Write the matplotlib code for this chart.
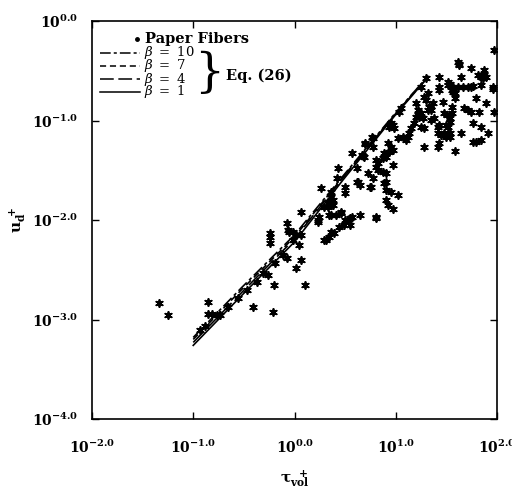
import numpy as np
import matplotlib
matplotlib.use("Agg")
import matplotlib.pyplot as plt
from matplotlib.ticker import FixedLocator, FuncFormatter, NullLocator

plt.rcParams['mathtext.fontset'] = 'dejavuserif'
plt.rcParams['font.family'] = ['DejaVu Serif']

# ---- data (log10 exponents) ----
tau_exp = [
    -1.34, -1.25, -0.85, -0.85, -0.81, -0.77, -0.74, -0.41, -0.21, -0.20,
    0.10, -0.24, -0.24, -0.24, -0.07, -0.05, -0.06, 0.01, 0.04, 0.06,
    0.01, 0.06, -0.07, -0.26, 0.29, 0.34, 0.36, 0.39, 0.44, 0.46,
    0.34, 0.41, 0.50, 0.29, -0.01, 0.06, 0.31, 0.49, 0.55, 0.55,
    0.53, 0.65, 0.80, 0.23, 0.24,
    -0.93, -0.88, -0.66, -0.56, -0.47, -0.37, -0.31, -0.19, -0.11, -0.01,
    0.23, 0.33, 0.34, 0.36, 0.62, 0.78, 1.05, 1.25, 1.30,
    0.78, 0.70, 0.57, 0.68, 0.80, 0.82, 0.73, 0.78, 0.43, 0.42,
    0.62, 0.65, 0.50, 0.26, 0.76, 0.36, 0.38, 0.36, 0.50, 0.46,
    0.36, 0.57, 0.34, 0.38,
    1.97, 1.61, 1.62, 1.74, 1.87, 1.81, 1.84, 1.86, 1.87, 1.89,
    1.64, 1.96, 1.96, 1.84, 1.43, 1.52, 1.54, 1.57, 1.61, 1.66,
    1.71, 1.74, 1.76, 1.43, 1.43, 1.56, 1.57, 1.59, 1.59, 1.79,
    1.28, 1.32, 1.47, 1.89, 1.97, 1.67, 1.71, 1.74, 1.82, 1.56,
    1.56, 1.48, 1.51, 1.54, 1.37, 1.33, 1.32, 1.35, 1.20, 1.22,
    1.22, 1.20, 1.23, 1.27, 1.35, 1.38, 1.18, 1.25, 1.28, 1.54,
    1.52, 1.50, 1.42, 1.43, 1.76, 1.84, 1.91, 1.42, 1.45, 1.48,
    1.51, 1.54, 1.54, 1.50, 1.64, 1.76, 1.79, 1.84, 1.43, 1.42,
    1.28, 1.59, 1.15, 1.13, 1.12, 1.10, 1.07, 1.02, 0.93, 0.97,
    0.98, 0.92, 0.95, 0.97, 0.93, 0.88, 0.90, 0.87, 0.97, 0.90,
    0.87, 0.80, 0.82, 0.90, 0.88, 0.90, 0.95, 1.02, 0.90, 0.92,
    0.97, 0.80, 0.70, 0.77, 0.67, 0.69, 0.63, 0.75,
    1.30, 1.35, 1.25, 1.52, 1.62, 1.03, 0.95,
]
u_exp = [
    -2.83, -2.95, -2.82, -2.94, -2.94, -2.95, -2.95, -2.87, -2.92, -2.65,
    -2.65, -2.13, -2.23, -2.17, -2.03, -2.12, -2.10, -2.15, -2.25, -2.40,
    -2.48, -1.92, -2.38, -2.55, -2.20, -2.17, -2.12, -2.13, -2.07, -1.93,
    -1.95, -1.95, -2.00, -1.87, -2.12, -2.15, -2.20, -2.05, -2.05, -1.98,
    -2.00, -1.95, -1.97, -2.00, -1.97,
    -3.11, -3.07, -2.87, -2.78, -2.70, -2.62, -2.53, -2.43, -2.35, -2.20,
    -2.02, -1.87, -1.83, -1.77, -1.48, -1.27, -0.87, -0.66, -0.57,
    -1.18, -1.24, -1.33, -1.36, -1.40, -1.50, -1.53, -1.58, -1.48, -1.58,
    -1.62, -1.65, -1.67, -1.68, -1.67, -1.72, -1.80, -1.85, -1.73, -1.92,
    -1.95, -1.97, -1.82, -1.85,
    -0.29, -0.41, -0.43, -0.47, -0.49, -0.54, -0.56, -0.57, -0.54, -0.56,
    -0.56, -0.66, -0.68, -0.64, -0.56, -0.61, -0.63, -0.66, -0.66, -0.66,
    -0.66, -0.66, -0.65, -0.66, -0.69, -0.69, -0.71, -0.72, -0.77, -0.77,
    -0.76, -0.72, -0.81, -0.82, -0.91, -0.87, -0.89, -0.91, -0.91, -0.86,
    -0.92, -0.92, -0.94, -0.97, -0.82, -0.86, -0.89, -0.89, -0.82, -0.89,
    -0.94, -0.96, -0.96, -0.97, -0.99, -0.97, -1.03, -1.07, -1.08, -1.02,
    -1.07, -1.05, -1.07, -1.05, -1.03, -1.07, -1.13, -1.13, -1.15, -1.13,
    -1.15, -1.13, -1.17, -1.17, -1.13, -1.22, -1.22, -1.20, -1.23, -1.27,
    -1.27, -1.31, -1.08, -1.13, -1.17, -1.20, -1.17, -1.18, -1.07, -1.05,
    -1.08, -1.23, -1.27, -1.30, -1.32, -1.33, -1.37, -1.38, -1.45, -1.53,
    -1.52, -1.47, -1.43, -1.62, -1.63, -1.70, -1.72, -1.75, -1.80, -1.85,
    -1.89, -1.98, -1.23, -1.17, -1.35, -1.37, -1.62, -1.67,
    -0.79, -0.85, -0.92, -0.64, -0.44, -0.91, -1.03,
]

# Eq. (26) curves, read at these tau values
line_tau = [0.1, 0.3, 1.0, 3.0, 10.0, 21.0]
beta_labels = ['10', '7', '4', '1']
u_beta10 = [-3.18, -2.68, -2.15, -1.56, -0.92, -0.55]
u_beta7 = [-3.20, -2.70, -2.17, -1.57, -0.93, -0.55]
u_beta4 = [-3.23, -2.73, -2.19, -1.58, -0.93, -0.56]
u_beta1 = [-3.26, -2.76, -2.22, -1.60, -0.94, -0.56]

x_ticks = [1e-2, 1e-1, 1e0, 1e1, 1e2]
y_ticks = [1e-4, 1e-3, 1e-2, 1e-1, 1e0]

# ---- figure ----
fig = plt.figure(figsize=(5.12, 4.90), dpi=100)
ax = fig.add_axes([92/512, 1-419/490, 405/512, 398/490])
ax.set_xscale('log')
ax.set_yscale('log')
ax.set_xlim(1e-2, 1e2)
ax.set_ylim(1e-4, 1e0)

tau = np.power(10.0, tau_exp)
u = np.power(10.0, u_exp)
ax.scatter(tau, u, marker=(6, 2, 0), s=26, color='black', linewidths=1.3, zorder=3)

styles = [(0, (7, 2, 2, 2)), (0, (4, 2.5)), (0, (9, 3)), '-']
series = [u_beta10, u_beta7, u_beta4, u_beta1]
for ys, ls in zip(series, styles):
    ax.plot(line_tau, np.power(10.0, ys), color='black', lw=1.2, ls=ls, zorder=2)

# axes styling
for s in ax.spines.values():
    s.set_linewidth(1.2)
ax.xaxis.set_major_locator(FixedLocator(x_ticks))
ax.yaxis.set_major_locator(FixedLocator(y_ticks))
ax.xaxis.set_minor_locator(NullLocator())
ax.yaxis.set_minor_locator(NullLocator())
fmt = FuncFormatter(lambda v, p: r'$\mathbf{10^{%.1f}}$' % np.log10(v))
ax.xaxis.set_major_formatter(fmt)
ax.yaxis.set_major_formatter(fmt)
ax.tick_params(which='major', direction='in', length=5, width=1.0,
               top=True, right=True, labelsize=10)
ax.tick_params(axis='x', pad=14)
ax.tick_params(axis='y', pad=10)

ax.set_xlabel(r'$\mathbf{\tau_{vol}^{\;\;+}}$', fontsize=11, labelpad=9)
ax.set_ylabel(r'$\mathbf{u_d^{\;+}}$', fontsize=11, labelpad=3)

# ---- legend (drawn in axes coordinates) ----
rows = [0.955, 0.920, 0.887, 0.854, 0.822]
ax.plot([0.111], [rows[0]], marker='o', ms=2.5, color='black',
        transform=ax.transAxes, clip_on=False)
ax.text(0.132, rows[0], 'Paper Fibers', transform=ax.transAxes,
        fontsize=10.5, fontweight='bold', va='center', ha='left')
for r, ls, lab in zip(rows[1:], styles, beta_labels):
    ax.plot([0.02, 0.118], [r, r], color='black', lw=1.1, ls=ls,
            transform=ax.transAxes)
    ax.text(0.128, r, r'$\beta\ =\ %s$' % lab, transform=ax.transAxes,
            fontsize=9.5, va='center', ha='left')
ax.text(0.29, 0.869, '}', transform=ax.transAxes, fontsize=34,
        va='center', ha='center', fontweight='light')
ax.text(0.33, 0.862, 'Eq. (26)', transform=ax.transAxes,
        fontsize=10.5, fontweight='bold', va='center', ha='left')

fig.savefig('out.png', dpi=100)
